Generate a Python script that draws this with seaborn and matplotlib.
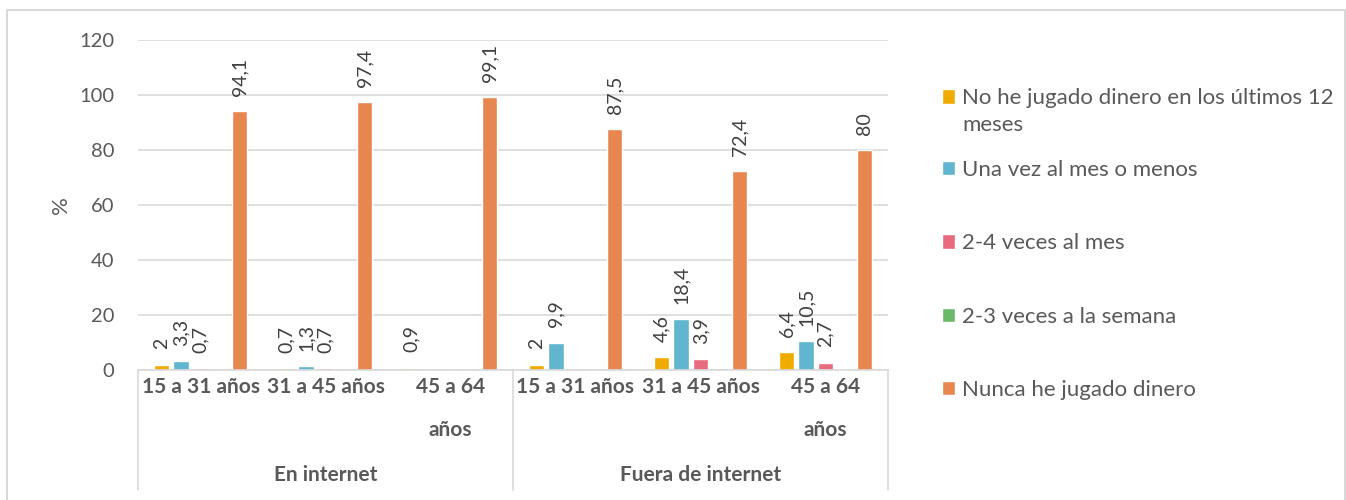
import pandas as pd
import numpy as np
import matplotlib.pyplot as plt
import seaborn as sns
from matplotlib.lines import Line2D

# chart data
grupos = ["En internet", "Fuera de internet"]
edades = ["15 a 31 años", "31 a 45 años", "45 a 64\naños"]
series = [
    "No he jugado dinero en los últimos 12\nmeses",
    "Una vez al mes o menos",
    "2-4 veces al mes",
    "2-3 veces a la semana",
    "Nunca he jugado dinero",
]
no_12_meses = [2, 0.7, 0.9, 2, 4.6, 6.4]
una_vez_mes = [3.3, 1.3, 0, 9.9, 18.4, 10.5]
dos_cuatro_mes = [0.7, 0.7, 0, 0, 3.9, 2.7]
dos_tres_semana = [0, 0, 0, 0, 0.6, 0.5]
nunca = [94.1, 97.4, 99.1, 87.5, 72.4, 80]
colores = ["#f0ab00", "#61b5ce", "#e86a7d", "#6bb86a", "#e8864f"]
yticks = [0, 20, 40, 60, 80, 100, 120]

cats = [f"{g}|{e}" for g in grupos for e in edades]
valores = [no_12_meses, una_vez_mes, dos_cuatro_mes, dos_tres_semana, nunca]
df = pd.DataFrame({
    "cat": np.tile(cats, len(series)),
    "serie": np.repeat(series, len(cats)),
    "valor": np.concatenate(valores),
})

sns.set_theme(style="white")
plt.rcParams["font.family"] = ["Lato", "DejaVu Sans"]
gris = "#595959"

fig = plt.figure(figsize=(13.46, 5), dpi=100)
ax = fig.add_axes([138 / 1346, 1 - 370 / 500, 750 / 1346, 330 / 500])

sns.barplot(data=df, x="cat", y="valor", hue="serie", order=cats,
            hue_order=series, palette=colores, width=0.78, gap=0.0,
            saturation=1, ax=ax, legend=True)

# narrow each bar a bit so the slots keep a small gap
for cont in ax.containers:
    for p in cont.patches:
        w = p.get_width()
        p.set_x(p.get_x() + w * 0.1)
        p.set_width(w * 0.8)

ax.set_ylim(0, 120)
ax.set_yticks(yticks)
ax.yaxis.grid(True, color="#d9d9d9", linewidth=1.2)
ax.set_axisbelow(True)
for s in ["top", "right", "left"]:
    ax.spines[s].set_visible(False)
ax.spines["bottom"].set_color("#d9d9d9")
ax.spines["bottom"].set_linewidth(1.2)
ax.tick_params(axis="y", labelsize=14.5, labelcolor=gris, length=0, pad=17)
ax.set_ylabel("%", fontsize=16, color=gris, labelpad=6)
ax.set_xlabel("")
ax.set_xticks(range(len(cats)))
ax.set_xticklabels([c.split("|")[1] for c in cats], fontsize=15,
                   fontweight="bold", color=gris, va="top", linespacing=2.45)
ax.tick_params(axis="x", length=0, pad=5)

# value labels (the green series carries none in the original)
for i, cont in enumerate(ax.containers):
    if i == 3:
        continue
    labs = [("" if v == 0 else f"{v:g}".replace(".", ",")) for v in valores[i]]
    ax.bar_label(cont, labels=labs, rotation=90, padding=11, fontsize=14,
                 color="#404040")

# group labels and separators under the axis
tr = ax.get_xaxis_transform()
for x in [-0.5, 2.5, 5.5]:
    ax.add_line(Line2D([x, x], [0, -0.365], transform=tr, color="#d9d9d9",
                       linewidth=1.2, clip_on=False))
for k, g in enumerate(grupos):
    ax.text(1 + 3 * k, -0.318, g, transform=tr, ha="center", va="center",
            fontsize=15, fontweight="bold", color=gris)

# legend: first (two-line) entry on its own, the rest evenly spaced
handles, labels = ax.get_legend_handles_labels()
opts = dict(loc="upper left", bbox_transform=fig.transFigure, frameon=False,
            fontsize=16, labelcolor=gris, handlelength=0.6, handleheight=0.6,
            handletextpad=0.3, labelspacing=2.4)
leg1 = ax.legend(handles[:1], labels[:1],
                 bbox_to_anchor=(922 / 1346, 1 - 68 / 500), **opts)
leg1.get_texts()[0].set_linespacing(1.45)
# lift the swatch to the first text line, as in the original
sw = leg1.legend_handles[0]
sw.set_y(sw.get_y() + 11)
ax.add_artist(leg1)
ax.legend(handles[1:], labels[1:],
          bbox_to_anchor=(922 / 1346, 1 - 140 / 500), **opts)

# outer chart border
fig.add_artist(Line2D([7 / 1346, 7 / 1346, 1345 / 1346, 1345 / 1346],
                      [0, 1 - 10 / 500, 1 - 10 / 500, 0],
                      transform=fig.transFigure, color="#d9d9d9",
                      linewidth=1.5))

fig.savefig("out.png", dpi=100)
